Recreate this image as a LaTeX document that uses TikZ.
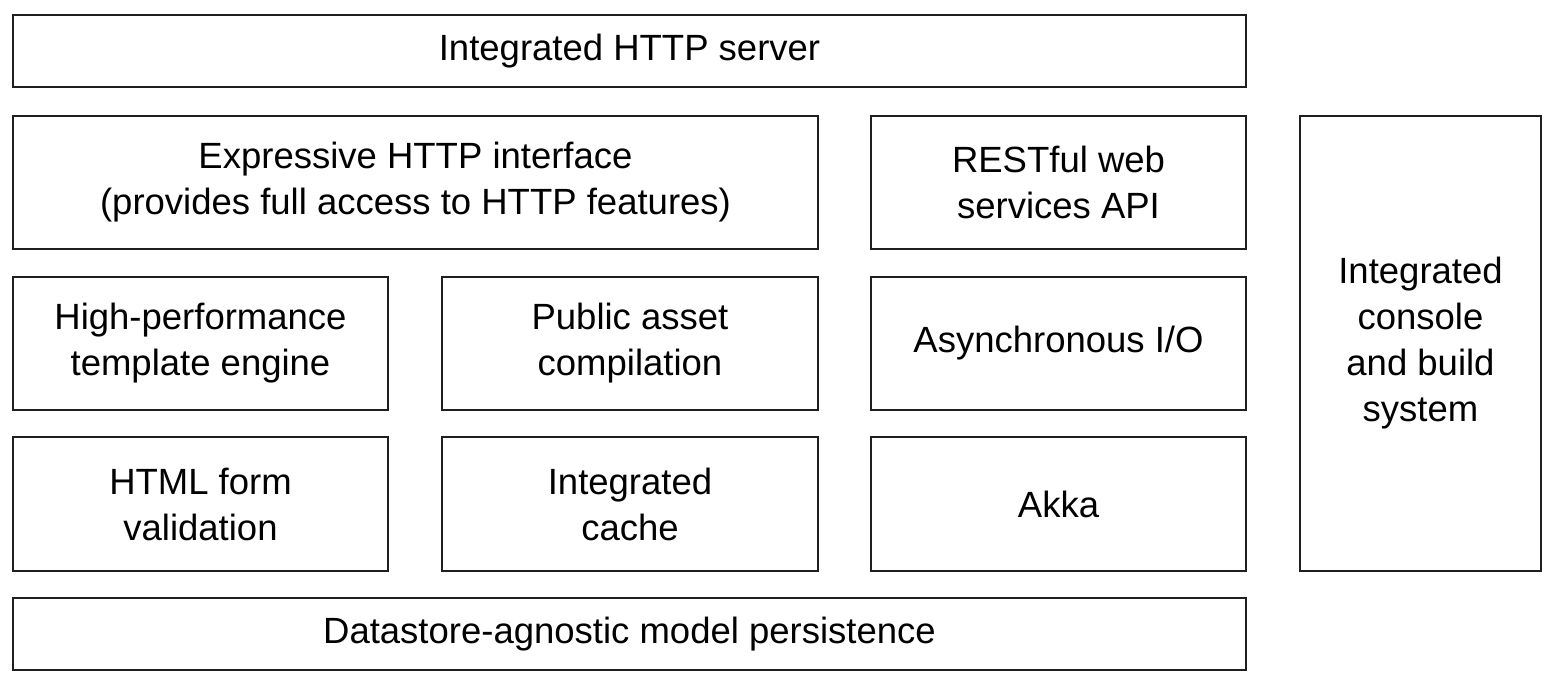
\documentclass[tikz,border=0pt]{standalone}
\usepackage{fontspec}
\setmainfont{Liberation Sans}
\begin{document}
\begin{tikzpicture}[x=1pt,y=-1pt,
  box/.style={draw=black!88, line width=2.2pt, inner sep=0pt, align=center,
    font=\fontsize{36.5}{46}\selectfont}]
\useasboundingbox (0,0) rectangle (1558,684);
\node[box, minimum width=1233pt, minimum height=72pt] (server) at (629.5,51) {Integrated HTTP server};
\node[box, minimum width=805pt, minimum height=133pt] (expr) at (415.5,182.5) {Expressive HTTP interface\\(provides full access to HTTP features)};
\node[box, minimum width=375pt, minimum height=133pt] (rest) at (1058.5,182.5) {RESTful web\\services API};
\node[box, minimum width=241pt, minimum height=455pt] (console) at (1420.5,343.5) {Integrated\\console\\and build\\system};
\node[box, minimum width=375pt, minimum height=133pt] (templ) at (200.5,343.5) {High-performance\\template engine};
\node[box, minimum width=376pt, minimum height=133pt] (asset) at (630,343.5) {Public asset\\compilation};
\node[box, minimum width=375pt, minimum height=133pt] (async) at (1058.5,343.5) {Asynchronous I/O};
\node[box, minimum width=375pt, minimum height=134pt] (form) at (200.5,504) {HTML form\\validation};
\node[box, minimum width=376pt, minimum height=134pt] (cache) at (630,504) {Integrated\\cache};
\node[box, minimum width=375pt, minimum height=134pt] (akka) at (1058.5,504) {Akka};
\node[box, minimum width=1233pt, minimum height=72pt] (data) at (629.5,634) {Datastore-agnostic model persistence};
\end{tikzpicture}
\end{document}
